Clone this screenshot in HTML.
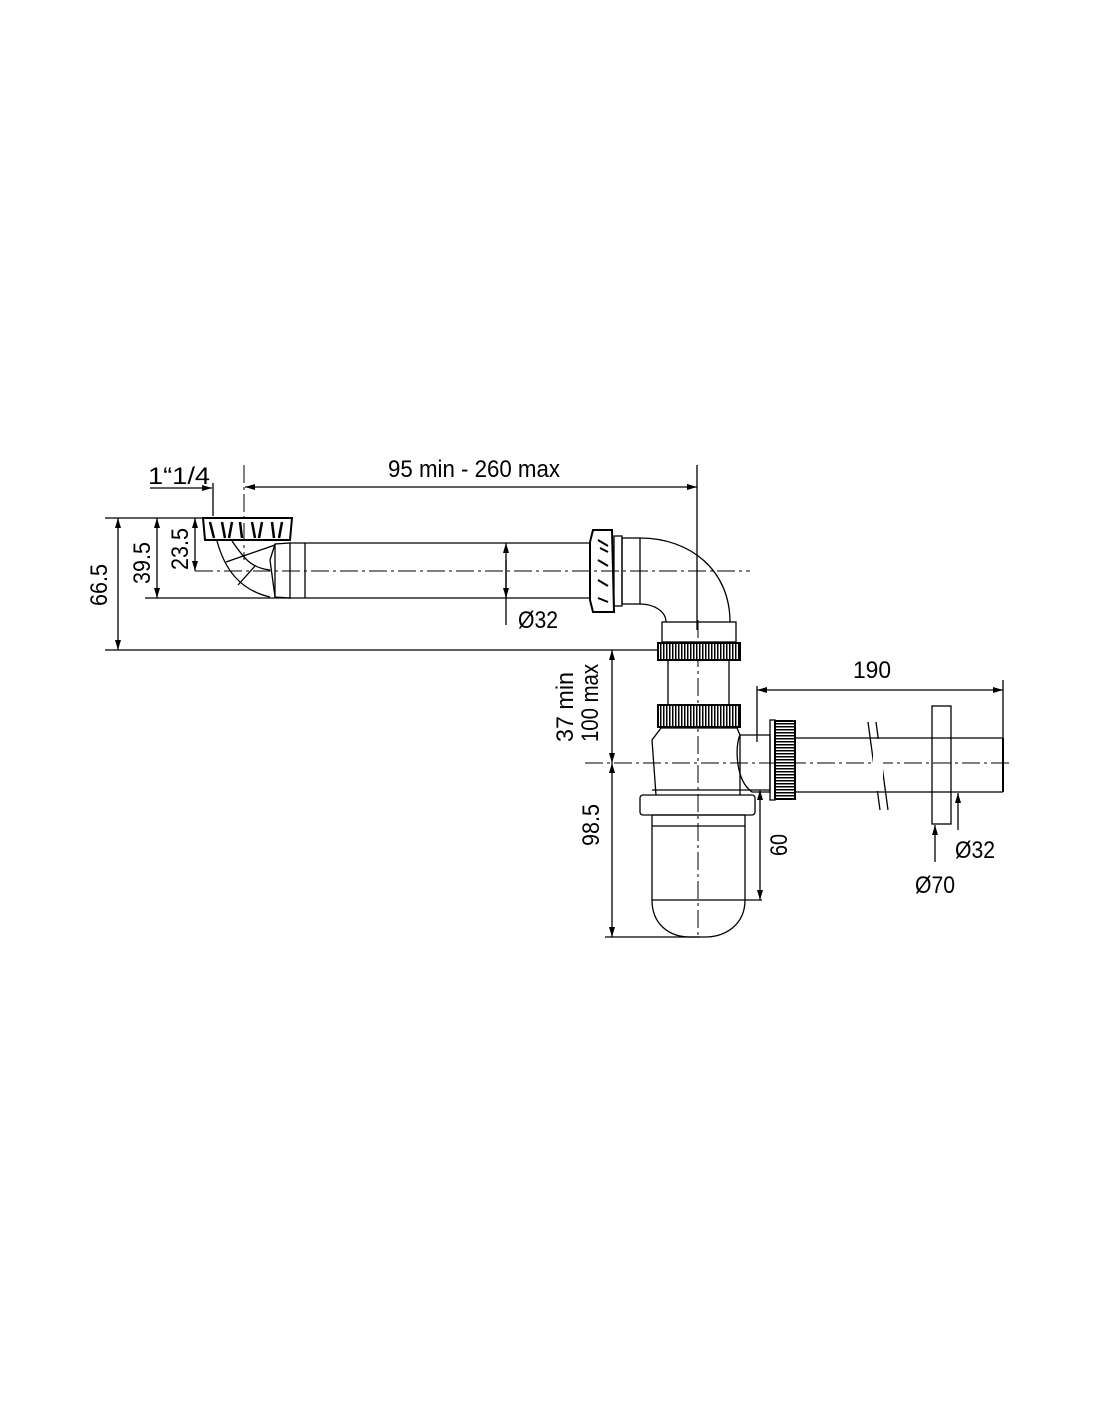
<!DOCTYPE html>
<html><head><meta charset="utf-8"><style>
html,body{margin:0;padding:0;background:#fff}
svg{display:block}
text{font-family:"Liberation Sans Narrow","Liberation Sans",sans-serif;font-size:24px;fill:#000}
</style></head><body>
<svg width="1100" height="1422" viewBox="0 0 1100 1422" xmlns="http://www.w3.org/2000/svg">
<defs>
<marker id="a" viewBox="0 0 10 6" refX="10" refY="3" markerWidth="10" markerHeight="6" orient="auto-start-reverse" markerUnits="userSpaceOnUse"><path d="M0,0L10,3L0,6z" fill="#000"/></marker>
<pattern id="kn" width="3" height="10" patternUnits="userSpaceOnUse"><rect width="3" height="10" fill="#fff"/><rect width="1.5" height="10" fill="#000"/></pattern>
<pattern id="kh" width="10" height="3" patternUnits="userSpaceOnUse"><rect width="10" height="3" fill="#fff"/><rect width="10" height="1.5" fill="#000"/></pattern>
</defs>
<g fill="none" stroke="#000" stroke-width="1.3">
<g stroke-dasharray="18,4,3,4" stroke-width="1">
<line x1="195" y1="571" x2="750" y2="571"/>
<line x1="244" y1="465" x2="244" y2="560"/>
<line x1="698" y1="620" x2="698" y2="938"/>
<line x1="585" y1="763" x2="1010" y2="763"/>
</g>
<line x1="150" y1="488" x2="212" y2="488" marker-end="url(#a)"/>
<line x1="213" y1="483" x2="213" y2="516"/>
<line x1="245" y1="487" x2="697" y2="487" marker-start="url(#a)" marker-end="url(#a)"/>
<line x1="697" y1="465" x2="697" y2="630"/>
<line x1="105" y1="518" x2="203" y2="518"/>
<line x1="118" y1="518" x2="118" y2="650" marker-start="url(#a)" marker-end="url(#a)"/>
<line x1="157" y1="518" x2="157" y2="598" marker-start="url(#a)" marker-end="url(#a)"/>
<line x1="145" y1="598" x2="290" y2="598"/>
<line x1="195" y1="518" x2="195" y2="571" marker-start="url(#a)" marker-end="url(#a)"/>
<line x1="105" y1="650" x2="658" y2="650"/>
<path d="M203,518 L292,518 L290,540 L205,540 Z" stroke-width="2"/>
<path d="M210,522l4,16M222,522l3,16M232,522l-3,16M240,522l2,16M252,522l3,16M262,522l-3,16M272,522l2,16M282,522l-3,16" stroke-width="2.5"/>
<path d="M217,541 C225,570 240,590 270,597"/>
<path d="M232,541 C245,560 252,568 270,570"/>
<path d="M226,562 L275,545"/>
<path d="M238,585 L255,566"/>
<path d="M270,560 L275,544 L290,543 L290,598 L275,597 Z"/>
<line x1="275" y1="544" x2="275" y2="597"/>
<line x1="305" y1="543" x2="305" y2="598"/>
<line x1="290" y1="543" x2="590" y2="543"/>
<line x1="290" y1="598" x2="590" y2="598"/>
<line x1="506" y1="543" x2="506" y2="625" marker-start="url(#a)"/>
<line x1="506" y1="560" x2="506" y2="598" marker-end="url(#a)"/>
<path d="M593,530 L612,530 L614,612 L593,612 L590,600 L590,542 Z" stroke-width="2"/>
<path d="M598,540l10,6M598,560l10,6M598,580l10,6M598,598l10,4M600,548l8,4" stroke-width="2"/>
<rect x="614" y="536" width="8" height="70"/>
<rect x="622" y="538" width="18" height="66"/>
<path d="M640,538 C690,538 730,570 730,622"/>
<path d="M640,604 C655,604 666,612 666,622"/>
<rect x="662" y="622" width="74" height="20"/>
<rect x="658" y="643" width="82" height="17" fill="url(#kn)" stroke-width="2"/>
<line x1="668" y1="660" x2="668" y2="705"/>
<line x1="729" y1="660" x2="729" y2="705"/>
<rect x="658" y="705" width="82" height="22" fill="url(#kn)" stroke-width="2"/>
<path d="M661,728 L737,728 L740,735 L740,795 M656,795 L652,740 L661,728"/>
<line x1="652" y1="790" x2="770" y2="790"/>
<path d="M740,735 L770,735 L770,792 L752,792 C735,780 735,745 740,735"/>
<rect x="640" y="795" width="115" height="20" rx="3"/>
<line x1="652" y1="815" x2="745" y2="815"/>
<path d="M652,815 L652,900 C652,925 670,937 690,937 L705,937 C725,937 745,925 745,900 L745,815"/>
<line x1="652" y1="826" x2="745" y2="826"/>
<line x1="652" y1="900" x2="762" y2="900"/>
<rect x="770" y="720" width="5" height="80"/>
<rect x="775" y="721" width="20" height="78" fill="url(#kh)" stroke-width="2"/>
<line x1="795" y1="738" x2="1003" y2="738"/>
<line x1="795" y1="792" x2="1003" y2="792"/>
<line x1="1003" y1="738" x2="1003" y2="792" stroke-width="2"/>
<line x1="868" y1="722" x2="880" y2="810"/>
<line x1="876" y1="722" x2="888" y2="810"/>
<rect x="873" y="739" width="10" height="52" fill="#fff" stroke="none"/>
<rect x="932" y="706" width="19" height="118"/>
<line x1="757" y1="690" x2="1003" y2="690" marker-start="url(#a)" marker-end="url(#a)"/>
<line x1="757" y1="686" x2="757" y2="742"/>
<line x1="1003" y1="680" x2="1003" y2="740"/>
<line x1="958" y1="830" x2="958" y2="793" marker-end="url(#a)"/>
<line x1="935" y1="862" x2="935" y2="825" marker-end="url(#a)"/>
<line x1="760" y1="790" x2="760" y2="900" marker-start="url(#a)" marker-end="url(#a)"/>
<line x1="612" y1="650" x2="612" y2="763" marker-start="url(#a)" marker-end="url(#a)"/>
<line x1="612" y1="763" x2="612" y2="937" marker-start="url(#a)" marker-end="url(#a)"/>
<line x1="605" y1="937" x2="700" y2="937"/>
</g>
<text x="148" y="484" textLength="62" lengthAdjust="spacingAndGlyphs">1“1/4</text>
<text x="388" y="477" textLength="172" lengthAdjust="spacingAndGlyphs">95 min - 260 max</text>
<text x="518" y="628" textLength="40" lengthAdjust="spacingAndGlyphs">Ø32</text>
<text x="853" y="678" textLength="38" lengthAdjust="spacingAndGlyphs">190</text>
<text x="955" y="858" textLength="40" lengthAdjust="spacingAndGlyphs">Ø32</text>
<text x="915" y="893" textLength="40" lengthAdjust="spacingAndGlyphs">Ø70</text>
<text transform="translate(107,606) rotate(-90)" textLength="42" lengthAdjust="spacingAndGlyphs">66.5</text>
<text transform="translate(150,584) rotate(-90)" textLength="42" lengthAdjust="spacingAndGlyphs">39.5</text>
<text transform="translate(188,570) rotate(-90)" textLength="42" lengthAdjust="spacingAndGlyphs">23.5</text>
<text transform="translate(573,742) rotate(-90)" textLength="70" lengthAdjust="spacingAndGlyphs">37 min</text>
<text transform="translate(598,742) rotate(-90)" textLength="78" lengthAdjust="spacingAndGlyphs">100 max</text>
<text transform="translate(599,846) rotate(-90)" textLength="42" lengthAdjust="spacingAndGlyphs">98.5</text>
<text transform="translate(787,856) rotate(-90)" textLength="22" lengthAdjust="spacingAndGlyphs">60</text>
</svg>
</body></html>
